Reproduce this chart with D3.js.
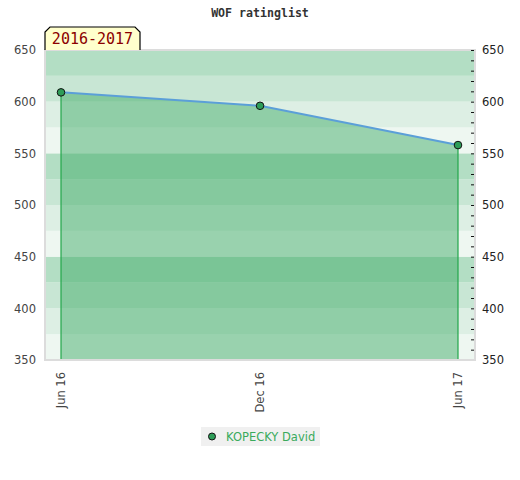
<!DOCTYPE html>
<html>
<head>
<meta charset="utf-8">
<script src="https://cdn.jsdelivr.net/npm/d3@7"></script>
<style>
  body { margin: 0; background: #fff; }
  text { font-family: "DejaVu Sans", sans-serif; }
</style>
</head>
<body>
<div id="chart"></div>
<script>
// chart data
const title = 'WOF ratinglist';
const seasonLabel = '2016-2017';
const playerName = 'KOPECKY David';
const dates = ['2016-06-01', '2016-12-01', '2017-06-01'];
const ratings = [609, 596, 558];
const xTickLabels = ['Jun 16', 'Dec 16', 'Jun 17'];
const yTicks = [350, 400, 450, 500, 550, 600, 650];

const W = 520, H = 480;
const plot = {left: 45, right: 475, top: 50, bottom: 360};
const bandColors = ['#eef7f1', '#ddefe4', '#c8e6d4', '#b3dec4'];

const svg = d3.select('#chart')
      .append('svg')
      .attr('width', W)
      .attr('height', H);

const parse = d3.timeParse('%Y-%m-%d');
const data = dates.map((d, i) => ({date: parse(d), value: ratings[i]}));

const xScale = d3.scaleTime()
      .domain(d3.extent(data, d => d.date))
      .range([plot.left + 16, plot.right - 17]);
const yScale = d3.scaleLinear()
      .domain([350, 650])
      .range([plot.bottom, plot.top]);

// Title
svg.append('text')
  .attr('x', 260)
  .attr('y', 17)
  .attr('text-anchor', 'middle')
  .style('font-family', '"DejaVu Sans Mono", monospace')
  .style('font-weight', 'bold')
  .style('font-size', '11.6px')
  .style('fill', '#333')
  .text(title);

// Background bands, 25 points each
const bands = d3.range(350, 650, 25);
svg.append('g')
  .selectAll('rect')
  .data(bands)
  .enter().append('rect')
  .attr('x', plot.left)
  .attr('width', plot.right - plot.left)
  .attr('y', d => yScale(d + 25))
  .attr('height', d => yScale(d) - yScale(d + 25))
  .style('fill', d => bandColors[((d - 350) / 25) % 4]);

// Area under the line
const area = d3.area()
      .x(d => xScale(d.date))
      .y0(yScale(350))
      .y1(d => yScale(d.value));
svg.append('path')
  .datum(data)
  .attr('d', area)
  .style('fill', 'rgb(60,170,100)')
  .style('fill-opacity', 0.48);

// Drop lines at both ends
svg.append('g')
  .selectAll('line')
  .data([data[0], data[data.length - 1]])
  .enter().append('line')
  .attr('x1', d => xScale(d.date))
  .attr('x2', d => xScale(d.date))
  .attr('y1', d => yScale(d.value))
  .attr('y2', yScale(350))
  .style('stroke', '#22a64a')
  .style('stroke-width', 1.2);

// Rating line
const line = d3.line()
      .x(d => xScale(d.date))
      .y(d => yScale(d.value));
svg.append('path')
  .datum(data)
  .attr('d', line)
  .style('fill', 'none')
  .style('stroke', '#5b9fd8')
  .style('stroke-width', 2);

// Frame
svg.append('rect')
  .attr('x', plot.left)
  .attr('y', plot.top)
  .attr('width', plot.right - plot.left)
  .attr('height', plot.bottom - plot.top)
  .style('fill', 'none')
  .style('stroke', '#dcdcdc')
  .style('stroke-width', 2);

// Points
svg.append('g')
  .selectAll('circle')
  .data(data)
  .enter().append('circle')
  .attr('cx', d => xScale(d.date))
  .attr('cy', d => yScale(d.value))
  .attr('r', 3.8)
  .style('fill', '#2e9d58')
  .style('stroke', '#111')
  .style('stroke-width', 1);

// Left axis: labels only
const leftAxis = svg.append('g')
      .attr('transform', `translate(${plot.left},0)`)
      .call(d3.axisLeft(yScale).tickValues(yTicks).tickSize(0).tickPadding(9));
leftAxis.select('.domain').remove();
leftAxis.selectAll('text')
  .style('font-size', '11.5px')
  .style('fill', '#444');

// Right axis: minor ticks every 10, labels every 50
const rightAxis = svg.append('g')
      .attr('transform', `translate(${plot.right - 1},0)`)
      .call(d3.axisRight(yScale)
            .tickValues(d3.range(360, 651, 10))
            .tickSizeInner(-3)
            .tickSizeOuter(0)
            .tickPadding(8)
            .tickFormat(d => yTicks.includes(d) ? d : ''));
rightAxis.select('.domain').remove();
rightAxis.selectAll('line').style('stroke', '#111');
rightAxis.selectAll('text')
  .style('font-size', '11.5px')
  .style('fill', '#222');
// 350 label without a tick
svg.append('text')
  .attr('x', plot.right + 7)
  .attr('y', yScale(350))
  .attr('dy', '0.32em')
  .style('font-size', '11.5px')
  .style('fill', '#222')
  .text(350);

// X labels, rotated
svg.append('g')
  .selectAll('text')
  .data(data)
  .enter().append('text')
  .attr('transform', d => `translate(${xScale(d.date)},${plot.bottom + 12}) rotate(-90)`)
  .attr('dy', '0.35em')
  .attr('text-anchor', 'end')
  .style('font-size', '11.5px')
  .style('fill', '#444')
  .text((d, i) => xTickLabels[i]);

// Season label box with chamfered top corners
const bx = plot.left, by = 27, bw = 95, bh = 23, c = 5;
svg.append('path')
  .attr('d', `M${bx},${by + bh} L${bx},${by + c} L${bx + c},${by} L${bx + bw - c},${by} L${bx + bw},${by + c} L${bx + bw},${by + bh}`)
  .style('fill', '#ffffcc')
  .style('stroke', '#000')
  .style('stroke-width', 1.2);
svg.append('text')
  .attr('x', bx + bw / 2)
  .attr('y', by + 17)
  .attr('text-anchor', 'middle')
  .style('font-family', '"DejaVu Sans Mono", monospace')
  .style('font-size', '15px')
  .style('fill', '#8b0000')
  .text(seasonLabel);

// Legend
const legend = svg.append('g')
      .attr('transform', 'translate(201,427)');
legend.append('rect')
  .attr('width', 119)
  .attr('height', 19)
  .style('fill', '#f0f0f0');
legend.append('circle')
  .attr('cx', 11)
  .attr('cy', 9.5)
  .attr('r', 3.5)
  .style('fill', '#2e9d58')
  .style('stroke', '#111')
  .style('stroke-width', 1);
legend.append('text')
  .attr('x', 25)
  .attr('y', 9.5)
  .attr('dy', '0.35em')
  .style('font-size', '11.5px')
  .style('fill', '#3aaa5c')
  .text(playerName);
</script>
</body>
</html>
